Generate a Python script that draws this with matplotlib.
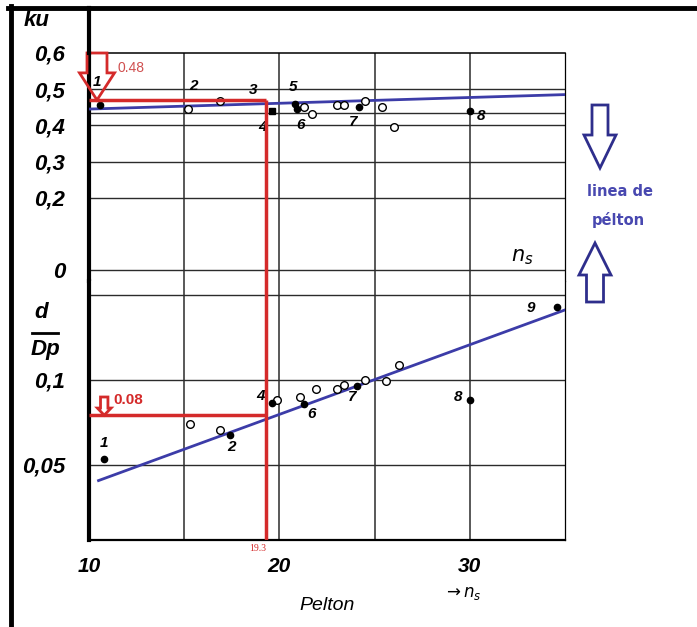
import matplotlib.pyplot as plt
from matplotlib.patches import FancyArrow

# upper panel: ku against specific speed n_s (Pelton)
ku_filled_ns = [10.6, 20.8, 20.9, 24.2, 30.0]
ku_filled = [0.455, 0.46, 0.445, 0.45, 0.44]
ku_square_ns = [19.6]
ku_square = [0.44]
ku_open_ns = [15.2, 16.9, 21.3, 21.7, 23.0, 23.4, 24.5, 25.4, 26.0]
ku_open = [0.445, 0.468, 0.452, 0.43, 0.455, 0.455, 0.468, 0.452, 0.395]
ku_fit_ns = [10, 35]
ku_fit = [0.445, 0.485]
ku_tags = ['1', '2', '3', '4', '5', '6', '7', '8']
ku_tag_ns = [10.4, 15.5, 18.6, 19.1, 20.7, 21.1, 23.9, 30.6]
ku_tag_y = [0.52, 0.509, 0.498, 0.395, 0.506, 0.40, 0.41, 0.425]

# lower panel: d/Dp (log scale) against n_s
d_filled_ns = [10.8, 17.4, 19.6, 21.3, 24.1, 30.0, 34.6]
d_filled = [0.0525, 0.064, 0.083, 0.082, 0.095, 0.085, 0.181]
d_open_ns = [15.3, 16.9, 19.9, 21.1, 21.9, 23.0, 23.4, 24.5, 25.6, 26.3]
d_open = [0.0698, 0.0665, 0.085, 0.087, 0.093, 0.093, 0.096, 0.1, 0.099, 0.113]
d_fit_ns = [10.5, 35]
d_fit = [0.044, 0.177]
d_tags = ['1', '2', '4', '6', '7', '8', '9']
d_tag_ns = [10.8, 17.5, 19.0, 21.7, 23.8, 29.4, 33.2]
d_tag_y = [0.06, 0.058, 0.088, 0.076, 0.087, 0.087, 0.18]

# grid and ticks
ns_grid = [15, 20, 25, 30]
ku_grid = [0.5, 0.435, 0.4, 0.3, 0.2, 0]
ku_ticks = [0.6, 0.5, 0.4, 0.3, 0.2, 0]
ku_ticklabels = ['0,6', '0,5', '0,4', '0,3', '0,2', '0']
d_grid = [0.2, 0.1, 0.05]
d_ticks = [0.1, 0.05]
d_ticklabels = ['0,1', '0,05']
ns_ticks = [10, 20, 30]

# values (red construction)
ns_read = 19.3
ku_read = 0.47
d_read = 0.075

red = '#d42a2a'
blue = '#3c3ca8'
navy = '#2e2e8c'
gridc = '#2b2b2b'

plt.rcParams['font.family'] = ['Liberation Sans', 'DejaVu Sans']

W, H = 697, 627
fig = plt.figure(figsize=(W / 100, H / 100), dpi=100)


def box(x0, y0, x1, y1):
    return [x0 / W, 1 - y1 / H, (x1 - x0) / W, (y1 - y0) / H]


ax_top = fig.add_axes(box(89, 53, 565, 281))
ax_bot = fig.add_axes(box(89, 281, 565, 540))

ax_top.set_xlim(10, 35)
ax_top.set_ylim(-0.0304, 0.6)
ax_bot.set_xlim(10, 35)
ax_bot.set_yscale('log')
ax_bot.set_ylim(0.0271, 0.2241)
ax_bot.minorticks_off()

for ax in (ax_top, ax_bot):
    for v in ns_grid:
        ax.axvline(v, color=gridc, lw=1.1, zorder=1)
    ax.spines['left'].set_linewidth(3)
    ax.spines['right'].set_linewidth(0.9)
for v in ku_grid:
    ax_top.axhline(v, color=gridc, lw=1.0, zorder=1)
for v in d_grid:
    ax_bot.axhline(v, color=gridc, lw=1.0, zorder=1)

ax_top.spines['bottom'].set_visible(False)
ax_top.spines['top'].set_linewidth(1.1)
ax_bot.spines['top'].set_visible(False)
ax_bot.spines['bottom'].set_linewidth(1.6)

tick_font = dict(family='Liberation Sans', weight='bold', style='italic', size=16)
ax_top.set_yticks(ku_ticks)
ax_top.set_yticklabels(ku_ticklabels, **tick_font)
ax_top.tick_params(axis='y', length=0, pad=17)
ax_top.tick_params(axis='x', bottom=False, labelbottom=False)
ax_bot.set_yticks(d_ticks)
ax_bot.set_yticklabels(d_ticklabels, **tick_font)
ax_bot.tick_params(axis='y', length=0, pad=17)
ax_bot.set_xticks(ns_ticks)
ax_bot.set_xticklabels([str(t) for t in ns_ticks], family='Liberation Sans',
                       weight='bold', style='italic', size=15)
ax_bot.tick_params(axis='x', length=0, pad=12)

# data points and fitted lines
ax_top.plot(ku_fit_ns, ku_fit, color=blue, lw=2, zorder=3)
ax_top.plot(ku_open_ns, ku_open, 'o', ms=5.5, mfc='white', mec='black', mew=1, zorder=4)
ax_top.plot(ku_filled_ns, ku_filled, 'o', ms=4.5, color='black', zorder=4)
ax_top.plot(ku_square_ns, ku_square, 's', ms=4.5, color='black', zorder=4)
for t, x, y in zip(ku_tags, ku_tag_ns, ku_tag_y):
    ax_top.text(x, y, t, ha='center', va='center', fontsize=11,
                weight='bold', style='italic', zorder=5)

ax_bot.plot(d_fit_ns, d_fit, color=blue, lw=2, zorder=3)
ax_bot.plot(d_open_ns, d_open, 'o', ms=5.5, mfc='white', mec='black', mew=1, zorder=4)
ax_bot.plot(d_filled_ns, d_filled, 'o', ms=4.5, color='black', zorder=4)
for t, x, y in zip(d_tags, d_tag_ns, d_tag_y):
    ax_bot.text(x, y, t, ha='center', va='center', fontsize=11,
                weight='bold', style='italic', zorder=5)

# red reading construction
ax_top.hlines(ku_read, 10, ns_read, color=red, lw=2.5, zorder=6)
ax_top.vlines(ns_read, ax_top.get_ylim()[0], ku_read, color=red, lw=2.5, zorder=6)
ax_bot.axvline(ns_read, color=red, lw=2.5, zorder=6)
ax_bot.hlines(d_read, 10, ns_read, color=red, lw=2.5, zorder=6)
ax_top.add_patch(FancyArrow(10.42, 0.6, 0, ku_read - 0.6, width=1.05, head_width=1.84,
                            head_length=0.075, length_includes_head=True, fill=False,
                            ec=red, lw=2, zorder=7, clip_on=False))
ax_bot.add_patch(FancyArrow(10.8, 0.087, 0, d_read - 0.087, width=0.39, head_width=0.72,
                            head_length=0.0045, length_includes_head=True, fill=False,
                            ec=red, lw=2, zorder=7, clip_on=False))
ax_top.text(11.5, 0.559, '0.48', color='#d05050', fontsize=10, va='center')
ax_bot.text(11.3, 0.085, '0.08', color=red, fontsize=11, weight='bold', va='center')
ax_bot.text(ns_read, -0.015, '19.3', color=red, fontsize=7, family='Liberation Serif',
            ha='right', va='top', transform=ax_bot.get_xaxis_transform())

# overlay in pixel units for frame and side notes
ov = fig.add_axes([0, 0, 1, 1])
ov.set_xlim(0, W)
ov.set_ylim(H, 0)
ov.axis('off')
ov.plot([8, W], [8, 8], color='black', lw=3.5)
ov.plot([11, 11], [6, H], color='black', lw=3.5)
ov.plot([89, 89], [8, 53], color='black', lw=3)

ov.text(37, 20, 'ku', fontsize=16, weight='bold', style='italic', ha='center', va='center')
ov.text(41, 313, 'd', fontsize=16, weight='bold', style='italic', ha='center', va='center')
ov.plot([32, 58], [333, 333], color='black', lw=2)
ov.text(45, 350, 'Dp', fontsize=16, weight='bold', style='italic', ha='center', va='center')
ov.text(327, 605, 'Pelton', fontsize=14, style='italic', ha='center', va='center')
ov.text(462, 593, r'$\rightarrow n_s$', fontsize=12, ha='center', va='center')
ov.text(522, 257, r'$n_s$', fontsize=15, ha='center', va='center')

ov.add_patch(FancyArrow(600, 105, 0, 63, width=16, head_width=32, head_length=33,
                        length_includes_head=True, fill=False, ec=navy, lw=2))
ov.add_patch(FancyArrow(595, 302, 0, -59, width=17, head_width=32, head_length=32,
                        length_includes_head=True, fill=False, ec=navy, lw=2))
ov.text(587, 192, 'linea de', color='#4848b0', fontsize=10.5, weight='bold',
        family='DejaVu Sans', va='center')
ov.text(592, 220, 'pélton', color='#4848b0', fontsize=10.5, weight='bold',
        family='DejaVu Sans', va='center')

fig.savefig('out.png', dpi=100)
